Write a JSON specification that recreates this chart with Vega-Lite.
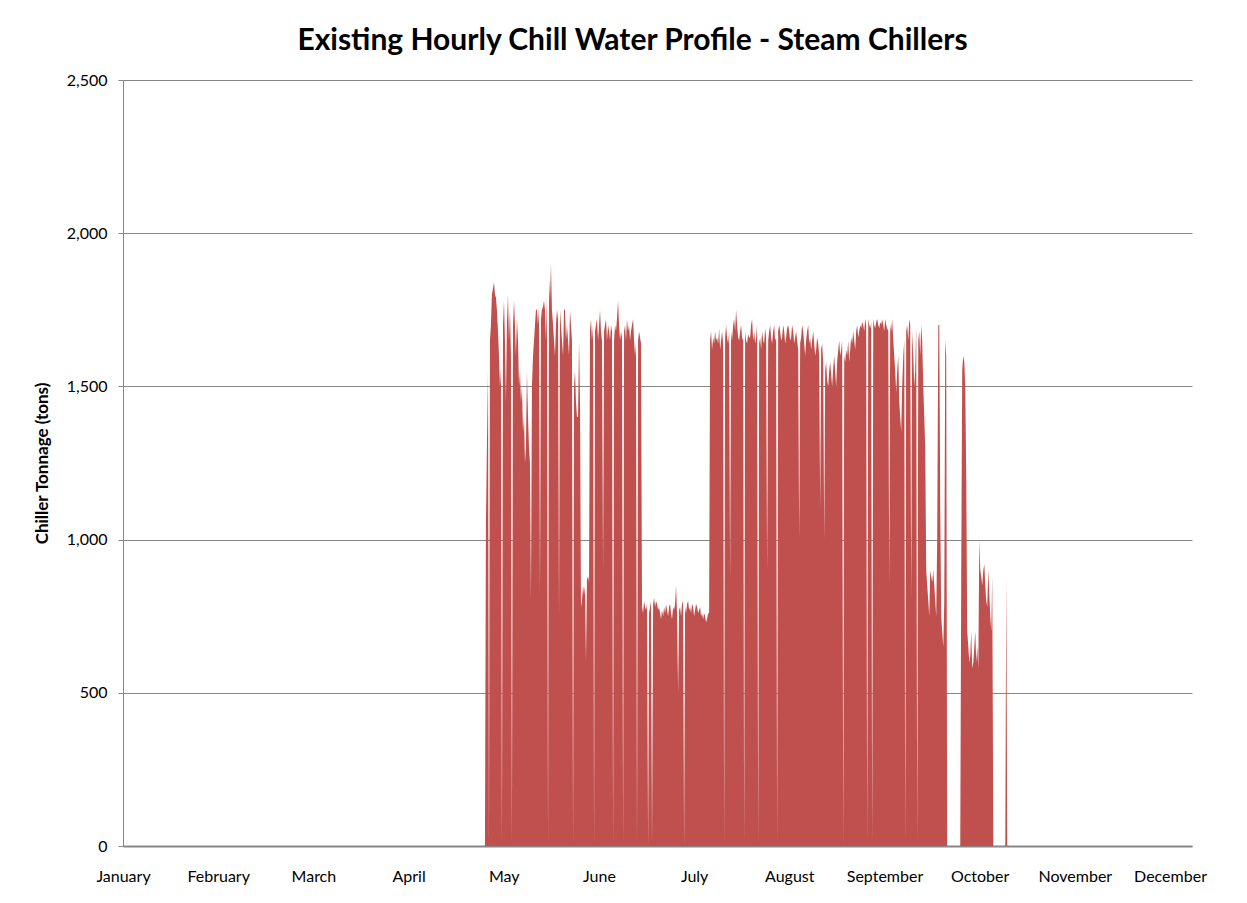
{
 "$schema": "https://vega.github.io/schema/vega-lite/v6.json",
 "width": 1069,
 "height": 766,
 "autosize": {"type": "none"},
 "padding": {"left": 123, "top": 80, "right": 55, "bottom": 57},
 "background": "white",
 "title": {"text": "Existing Hourly Chill Water Profile - Steam Chillers", "font": "Lato", "fontSize": 30, "fontWeight": "bold", "color": "#000000", "anchor": "middle", "frame": "group", "dx": -25, "offset": 16},
 "config": {"view": {"stroke": null}},
 "data": {"values": [
{"h":2966,"t":0},{"h":2974,"t":1050},{"h":2982,"t":1300},{"h":2991,"t":1550},{"h":2999,"t":0},
{"h":3007,"t":1650},{"h":3015,"t":1700},{"h":3023,"t":1800},{"h":3032,"t":1820},{"h":3040,"t":1840},
{"h":3048,"t":1800},{"h":3056,"t":1790},{"h":3064,"t":1750},{"h":3073,"t":1680},{"h":3081,"t":1600},
{"h":3089,"t":1500},{"h":3097,"t":1560},{"h":3105,"t":0},{"h":3114,"t":1700},{"h":3122,"t":1780},
{"h":3130,"t":1650},{"h":3138,"t":1450},{"h":3146,"t":1700},{"h":3155,"t":1800},{"h":3163,"t":1650},
{"h":3171,"t":1750},{"h":3179,"t":1600},{"h":3187,"t":0},{"h":3196,"t":1700},{"h":3204,"t":1780},
{"h":3212,"t":1700},{"h":3220,"t":1600},{"h":3228,"t":1720},{"h":3237,"t":1650},{"h":3245,"t":1500},
{"h":3253,"t":1550},{"h":3261,"t":1450},{"h":3269,"t":1500},{"h":3278,"t":1350},{"h":3286,"t":1400},
{"h":3294,"t":1250},{"h":3302,"t":1300},{"h":3310,"t":1550},{"h":3319,"t":1400},{"h":3327,"t":1300},
{"h":3335,"t":1250},{"h":3343,"t":800},{"h":3351,"t":1500},{"h":3360,"t":1600},{"h":3368,"t":1650},
{"h":3376,"t":1700},{"h":3384,"t":1750},{"h":3392,"t":1750},{"h":3401,"t":1700},{"h":3409,"t":1760},
{"h":3417,"t":820},{"h":3425,"t":1720},{"h":3433,"t":1750},{"h":3442,"t":1760},{"h":3450,"t":1780},
{"h":3458,"t":1750},{"h":3466,"t":1650},{"h":3474,"t":1800},{"h":3483,"t":0},{"h":3491,"t":1850},
{"h":3499,"t":1780},{"h":3507,"t":1900},{"h":3515,"t":1750},{"h":3524,"t":1700},{"h":3532,"t":1650},
{"h":3540,"t":1600},{"h":3548,"t":1700},{"h":3556,"t":1750},{"h":3565,"t":1720},{"h":3573,"t":750},
{"h":3581,"t":1750},{"h":3589,"t":1700},{"h":3597,"t":1650},{"h":3606,"t":1600},{"h":3614,"t":1750},
{"h":3622,"t":1750},{"h":3630,"t":1650},{"h":3638,"t":1700},{"h":3647,"t":1650},{"h":3655,"t":1600},
{"h":3663,"t":1750},{"h":3671,"t":1700},{"h":3679,"t":1650},{"h":3688,"t":0},{"h":3696,"t":1500},
{"h":3704,"t":1550},{"h":3712,"t":1450},{"h":3720,"t":1400},{"h":3729,"t":1400},{"h":3737,"t":1650},
{"h":3745,"t":1450},{"h":3753,"t":780},{"h":3761,"t":800},{"h":3770,"t":850},{"h":3778,"t":820},
{"h":3786,"t":850},{"h":3794,"t":600},{"h":3802,"t":870},{"h":3811,"t":880},{"h":3819,"t":860},
{"h":3827,"t":1680},{"h":3835,"t":1720},{"h":3843,"t":1650},{"h":3852,"t":1700},{"h":3860,"t":0},
{"h":3868,"t":1680},{"h":3876,"t":1700},{"h":3884,"t":1720},{"h":3893,"t":1650},{"h":3901,"t":1700},
{"h":3909,"t":1750},{"h":3917,"t":1680},{"h":3925,"t":1650},{"h":3934,"t":900},{"h":3942,"t":1680},
{"h":3950,"t":1700},{"h":3958,"t":1720},{"h":3966,"t":1650},{"h":3975,"t":1700},{"h":3983,"t":1680},
{"h":3991,"t":1650},{"h":3999,"t":1700},{"h":4007,"t":1680},{"h":4016,"t":0},{"h":4024,"t":1650},
{"h":4032,"t":1700},{"h":4040,"t":1680},{"h":4048,"t":1720},{"h":4057,"t":1780},{"h":4065,"t":1700},
{"h":4073,"t":1650},{"h":4081,"t":1680},{"h":4089,"t":1660},{"h":4098,"t":0},{"h":4106,"t":1680},
{"h":4114,"t":1700},{"h":4122,"t":1650},{"h":4130,"t":1720},{"h":4139,"t":1680},{"h":4147,"t":1700},
{"h":4155,"t":1650},{"h":4163,"t":1680},{"h":4171,"t":1700},{"h":4180,"t":1720},{"h":4188,"t":1650},
{"h":4196,"t":1600},{"h":4204,"t":1640},{"h":4212,"t":0},{"h":4221,"t":1650},{"h":4229,"t":1680},
{"h":4237,"t":1660},{"h":4245,"t":1640},{"h":4253,"t":780},{"h":4262,"t":760},{"h":4270,"t":800},
{"h":4278,"t":780},{"h":4286,"t":770},{"h":4294,"t":790},{"h":4303,"t":0},{"h":4311,"t":760},
{"h":4319,"t":780},{"h":4327,"t":800},{"h":4335,"t":0},{"h":4344,"t":790},{"h":4352,"t":810},
{"h":4360,"t":780},{"h":4368,"t":800},{"h":4376,"t":790},{"h":4385,"t":770},{"h":4393,"t":780},
{"h":4401,"t":760},{"h":4409,"t":740},{"h":4417,"t":770},{"h":4426,"t":750},{"h":4434,"t":780},
{"h":4442,"t":760},{"h":4450,"t":790},{"h":4458,"t":770},{"h":4467,"t":750},{"h":4475,"t":780},
{"h":4483,"t":790},{"h":4491,"t":760},{"h":4499,"t":740},{"h":4508,"t":780},{"h":4516,"t":770},
{"h":4524,"t":790},{"h":4532,"t":850},{"h":4540,"t":760},{"h":4549,"t":500},{"h":4557,"t":770},
{"h":4565,"t":780},{"h":4573,"t":750},{"h":4581,"t":790},{"h":4590,"t":800},{"h":4598,"t":0},
{"h":4606,"t":780},{"h":4614,"t":760},{"h":4622,"t":790},{"h":4631,"t":800},{"h":4639,"t":770},
{"h":4647,"t":780},{"h":4655,"t":760},{"h":4663,"t":790},{"h":4672,"t":780},{"h":4680,"t":750},
{"h":4688,"t":770},{"h":4696,"t":790},{"h":4704,"t":780},{"h":4713,"t":760},{"h":4721,"t":770},
{"h":4729,"t":780},{"h":4737,"t":750},{"h":4745,"t":760},{"h":4754,"t":740},{"h":4762,"t":760},
{"h":4770,"t":750},{"h":4778,"t":730},{"h":4786,"t":740},{"h":4795,"t":760},{"h":4803,"t":760},
{"h":4811,"t":1650},{"h":4819,"t":1680},{"h":4827,"t":1620},{"h":4836,"t":1660},{"h":4844,"t":1640},
{"h":4852,"t":1680},{"h":4860,"t":1650},{"h":4868,"t":1660},{"h":4877,"t":1640},{"h":4885,"t":1690},
{"h":4893,"t":1620},{"h":4901,"t":1650},{"h":4909,"t":1680},{"h":4918,"t":1640},{"h":4926,"t":0},
{"h":4934,"t":1660},{"h":4942,"t":1700},{"h":4950,"t":1660},{"h":4959,"t":1640},{"h":4967,"t":1680},
{"h":4975,"t":870},{"h":4983,"t":1680},{"h":4991,"t":1650},{"h":5000,"t":1700},{"h":5008,"t":1720},
{"h":5016,"t":1680},{"h":5024,"t":1750},{"h":5032,"t":1700},{"h":5041,"t":1660},{"h":5049,"t":1650},
{"h":5057,"t":1680},{"h":5065,"t":1700},{"h":5073,"t":1660},{"h":5082,"t":1650},{"h":5090,"t":0},
{"h":5098,"t":1680},{"h":5106,"t":1650},{"h":5114,"t":1640},{"h":5123,"t":1670},{"h":5131,"t":1660},
{"h":5139,"t":1660},{"h":5147,"t":1700},{"h":5155,"t":1720},{"h":5164,"t":1650},{"h":5172,"t":1680},
{"h":5180,"t":1640},{"h":5188,"t":1660},{"h":5196,"t":1700},{"h":5205,"t":0},{"h":5213,"t":1640},
{"h":5221,"t":1660},{"h":5229,"t":1620},{"h":5237,"t":1680},{"h":5246,"t":1650},{"h":5254,"t":1640},
{"h":5262,"t":1690},{"h":5270,"t":1660},{"h":5278,"t":900},{"h":5287,"t":1650},{"h":5295,"t":1680},
{"h":5303,"t":1700},{"h":5311,"t":1660},{"h":5319,"t":1640},{"h":5328,"t":1680},{"h":5336,"t":1700},
{"h":5344,"t":1650},{"h":5352,"t":1660},{"h":5360,"t":0},{"h":5369,"t":1680},{"h":5377,"t":1700},
{"h":5385,"t":1680},{"h":5393,"t":1650},{"h":5401,"t":1660},{"h":5410,"t":1700},{"h":5418,"t":1680},
{"h":5426,"t":1640},{"h":5434,"t":1660},{"h":5442,"t":1690},{"h":5451,"t":1700},{"h":5459,"t":1680},
{"h":5467,"t":1650},{"h":5475,"t":1660},{"h":5483,"t":1700},{"h":5492,"t":1680},{"h":5500,"t":1640},
{"h":5508,"t":1660},{"h":5516,"t":1680},{"h":5524,"t":1650},{"h":5533,"t":1620},{"h":5541,"t":1000},
{"h":5549,"t":1640},{"h":5557,"t":1660},{"h":5565,"t":1700},{"h":5574,"t":1680},{"h":5582,"t":1640},
{"h":5590,"t":1600},{"h":5598,"t":1650},{"h":5606,"t":1680},{"h":5615,"t":1700},{"h":5623,"t":1640},
{"h":5631,"t":1660},{"h":5639,"t":1620},{"h":5647,"t":1650},{"h":5656,"t":1680},{"h":5664,"t":1640},
{"h":5672,"t":1600},{"h":5680,"t":1620},{"h":5688,"t":1660},{"h":5697,"t":1640},{"h":5705,"t":1600},
{"h":5713,"t":1100},{"h":5721,"t":1620},{"h":5729,"t":1640},{"h":5738,"t":1580},{"h":5746,"t":1000},
{"h":5754,"t":1550},{"h":5762,"t":1580},{"h":5770,"t":1520},{"h":5779,"t":1500},{"h":5787,"t":1550},
{"h":5795,"t":1580},{"h":5803,"t":1540},{"h":5811,"t":1500},{"h":5820,"t":1560},{"h":5828,"t":1600},
{"h":5836,"t":1550},{"h":5844,"t":1500},{"h":5852,"t":1580},{"h":5861,"t":1620},{"h":5869,"t":1650},
{"h":5877,"t":1600},{"h":5885,"t":1620},{"h":5893,"t":1650},{"h":5902,"t":0},{"h":5910,"t":1600},
{"h":5918,"t":1580},{"h":5926,"t":1620},{"h":5934,"t":1600},{"h":5943,"t":1650},{"h":5951,"t":1580},
{"h":5959,"t":1620},{"h":5967,"t":1660},{"h":5975,"t":1640},{"h":5984,"t":1680},{"h":5992,"t":1650},
{"h":6000,"t":1620},{"h":6008,"t":1680},{"h":6016,"t":1700},{"h":6025,"t":1660},{"h":6033,"t":1680},
{"h":6041,"t":1700},{"h":6049,"t":1690},{"h":6057,"t":1710},{"h":6066,"t":1700},{"h":6074,"t":1680},
{"h":6082,"t":1720},{"h":6090,"t":1700},{"h":6098,"t":0},{"h":6107,"t":1720},{"h":6115,"t":1700},
{"h":6123,"t":1690},{"h":6131,"t":1710},{"h":6139,"t":0},{"h":6148,"t":1720},{"h":6156,"t":1700},
{"h":6164,"t":1690},{"h":6172,"t":1710},{"h":6180,"t":1720},{"h":6189,"t":1700},{"h":6197,"t":1690},
{"h":6205,"t":1710},{"h":6213,"t":1700},{"h":6221,"t":1720},{"h":6230,"t":1700},{"h":6238,"t":1680},
{"h":6246,"t":1720},{"h":6254,"t":1700},{"h":6262,"t":1690},{"h":6271,"t":1680},{"h":6279,"t":850},
{"h":6287,"t":1700},{"h":6295,"t":1680},{"h":6303,"t":1720},{"h":6312,"t":1650},{"h":6320,"t":1600},
{"h":6328,"t":1550},{"h":6336,"t":1480},{"h":6344,"t":1550},{"h":6353,"t":1600},{"h":6361,"t":1450},
{"h":6369,"t":1400},{"h":6377,"t":1350},{"h":6385,"t":1500},{"h":6394,"t":1600},{"h":6402,"t":1650},
{"h":6410,"t":0},{"h":6418,"t":1680},{"h":6426,"t":1700},{"h":6435,"t":1650},{"h":6443,"t":1720},
{"h":6451,"t":1700},{"h":6459,"t":800},{"h":6467,"t":1680},{"h":6476,"t":1600},{"h":6484,"t":1500},
{"h":6492,"t":1550},{"h":6500,"t":1700},{"h":6508,"t":0},{"h":6517,"t":1650},{"h":6525,"t":1680},
{"h":6533,"t":1600},{"h":6541,"t":1700},{"h":6549,"t":1650},{"h":6558,"t":1500},{"h":6566,"t":1400},
{"h":6574,"t":1300},{"h":6582,"t":900},{"h":6590,"t":850},{"h":6599,"t":800},{"h":6607,"t":750},
{"h":6615,"t":900},{"h":6623,"t":880},{"h":6631,"t":860},{"h":6640,"t":900},{"h":6648,"t":850},
{"h":6656,"t":800},{"h":6664,"t":750},{"h":6672,"t":1000},{"h":6681,"t":1700},{"h":6689,"t":1700},
{"h":6697,"t":1100},{"h":6705,"t":750},{"h":6713,"t":700},{"h":6722,"t":650},{"h":6730,"t":800},
{"h":6738,"t":1650},{"h":6746,"t":1600},{"h":6754,"t":0},
{"h":6861,"t":0},{"h":6869,"t":900},{"h":6877,"t":1550},{"h":6885,"t":1600},{"h":6894,"t":1580},
{"h":6902,"t":1500},{"h":6910,"t":1200},{"h":6918,"t":700},{"h":6927,"t":650},{"h":6935,"t":600},
{"h":6943,"t":620},{"h":6951,"t":700},{"h":6959,"t":580},{"h":6968,"t":600},{"h":6976,"t":650},
{"h":6984,"t":700},{"h":6992,"t":600},{"h":7000,"t":650},{"h":7009,"t":580},{"h":7017,"t":1000},
{"h":7025,"t":900},{"h":7033,"t":880},{"h":7041,"t":850},{"h":7050,"t":900},{"h":7058,"t":920},
{"h":7066,"t":850},{"h":7074,"t":800},{"h":7082,"t":780},{"h":7091,"t":900},{"h":7099,"t":820},
{"h":7107,"t":750},{"h":7115,"t":700},{"h":7123,"t":880},{"h":7132,"t":0},
{"h":7230,"t":0},{"h":7238,"t":880},{"h":7246,"t":0}
 ]},
 "mark": {"type": "area", "color": "#C0504D", "interpolate": "linear"},
 "encoding": {
  "x": {"field": "h", "type": "quantitative", "scale": {"domain": [0, 8760], "nice": false, "zero": false},
   "axis": {"title": null, "values": [0,780,1560,2340,3120,3900,4680,5460,6240,7020,7800,8580],
    "labelExpr": "['January','February','March','April','May','June','July','August','September','October','November','December'][round(datum.value/780)]",
    "grid": false, "ticks": false, "tickSize": 0, "labelOverlap": false, "labelFlush": false,
    "domainColor": "#868686", "domainWidth": 2, "labelFont": "Lato", "labelFontSize": 16, "labelColor": "#000000", "labelPadding": 22}},
  "y": {"field": "t", "type": "quantitative", "scale": {"domain": [0, 2500], "nice": false},
   "axis": {"title": "Chiller Tonnage (tons)", "values": [0,500,1000,1500,2000,2500], "format": ",d",
    "grid": true, "gridColor": "#868686", "gridWidth": 1, "tickColor": "#868686", "tickSize": 5,
    "domainColor": "#868686", "labelFont": "Lato", "labelFontSize": 16, "labelColor": "#000000", "labelPadding": 11,
    "titleFont": "Lato", "titleFontSize": 17, "titleFontWeight": "bold", "titleColor": "#000000",
    "titleX": -81, "titleY": 383, "titleAlign": "center", "titleBaseline": "middle", "titleAngle": -90}}
 }
}
